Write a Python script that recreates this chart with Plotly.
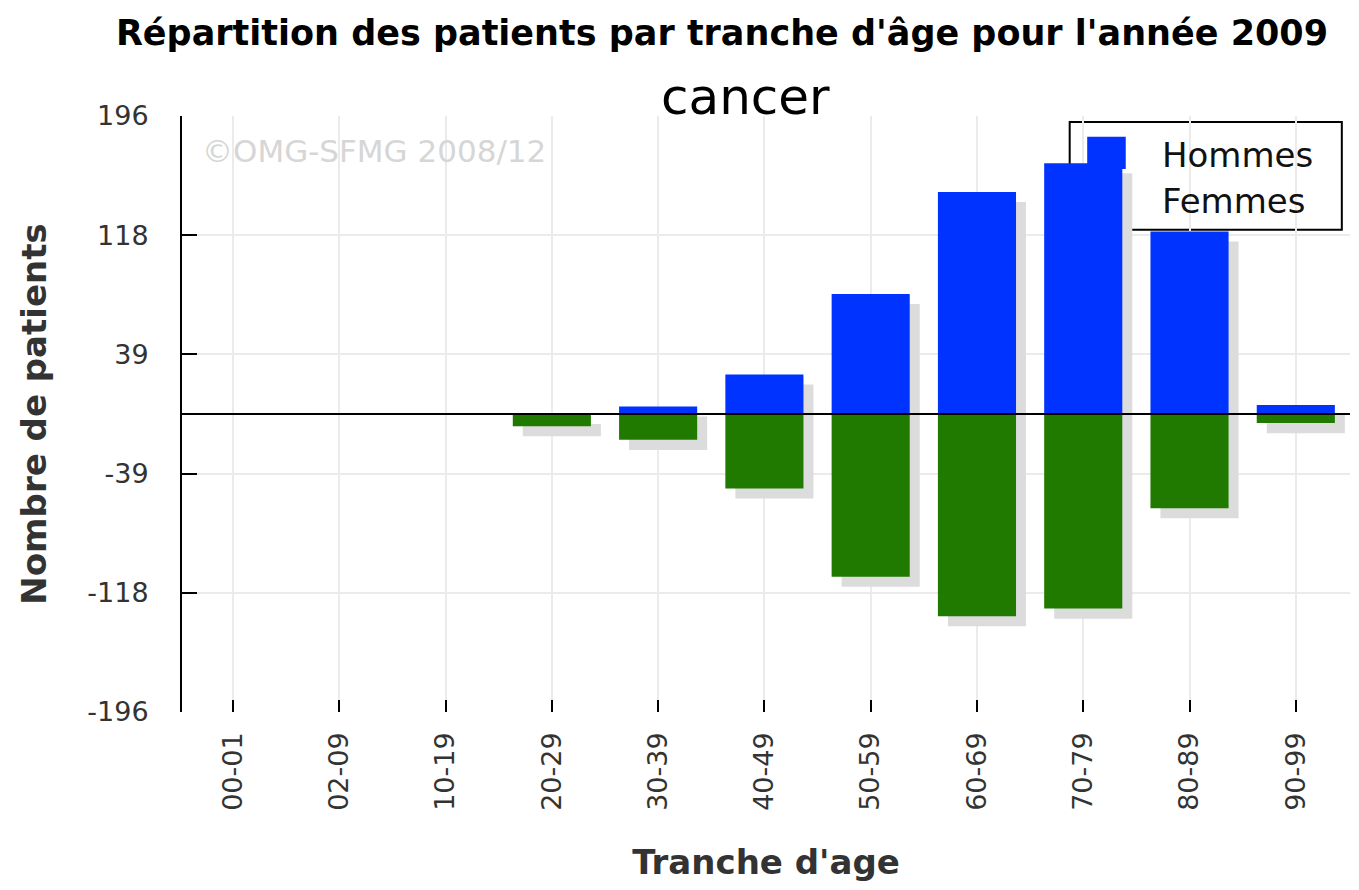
import plotly.graph_objects as go

# data
tranches = ["00-01", "02-09", "10-19", "20-29", "30-39", "40-49",
            "50-59", "60-69", "70-79", "80-89", "90-99"]
hommes = [0, 0, 0, 0, 5, 26, 79, 146, 165, 120, 6]
femmes = [0, 0, 0, -8, -17, -49, -107, -133, -128, -62, -6]

y_ticks = [-196, -117.6, -39.2, 0, 39.2, 117.6, 196]
y_labels = ["-196", "-118", "-39", "", "39", "118", "196"]

BLEU = "#0033ff"
VERT = "#217a00"
OMBRE = "#dcdcdc"
FONT = "DejaVu Sans"

# page body has an 8px margin, so the figure is 8px smaller each way
W, H = 1351, 882

bar_w = 0.735
shadow_dx = 0.094   # ~10px to the right
shadow_dy = -6.6    # ~10px down

fig = go.Figure()

# drop shadows first so the bars sit on top
fig.add_trace(go.Bar(x=tranches, y=hommes, base=shadow_dy, width=bar_w,
                     offset=-bar_w / 2 + shadow_dx, marker_color=OMBRE,
                     marker_line_width=0, showlegend=False, hoverinfo="skip"))
fig.add_trace(go.Bar(x=tranches, y=femmes, base=shadow_dy, width=bar_w,
                     offset=-bar_w / 2 + shadow_dx, marker_color=OMBRE,
                     marker_line_width=0, showlegend=False, hoverinfo="skip"))

fig.add_trace(go.Bar(x=tranches, y=hommes, name="Hommes", width=bar_w,
                     offset=-bar_w / 2, marker_color=BLEU,
                     marker_line_width=0, showlegend=False))
fig.add_trace(go.Bar(x=tranches, y=femmes, name="Femmes", width=bar_w,
                     offset=-bar_w / 2, marker_color=VERT,
                     marker_line_width=0, showlegend=False))

fig.update_layout(
    width=W, height=H,
    barmode="overlay",
    plot_bgcolor="white", paper_bgcolor="white",
    margin=dict(l=174, r=9, t=108, b=178, autoexpand=False),
    font=dict(family=FONT, color="#222"),
    title=dict(text="<b>Répartition des patients par tranche d'âge pour l'année 2009</b>",
               x=714 / W, xanchor="center", xref="container",
               y=1 - 25 / H, yanchor="middle", yref="container",
               font=dict(size=35, color="black", family=FONT)),
)

fig.update_xaxes(
    type="category", automargin=False,
    range=[-0.48, 10.51],
    showgrid=True, gridcolor="#ebebeb", gridwidth=2,
    showline=False, zeroline=False,
    ticks="inside", ticklen=12, tickwidth=2, tickcolor="black",
    tickangle=-90, tickfont=dict(size=27, color="#333"),
    ticklabelstandoff=14,
    title=dict(text="<b>Tranche d'age</b>", font=dict(size=34, color="#333"),
               standoff=40),
)
fig.update_yaxes(
    automargin=False,
    range=[-196, 196],
    tickmode="array", tickvals=y_ticks, ticktext=y_labels,
    showgrid=True, gridcolor="#ebebeb", gridwidth=2,
    showline=True, linecolor="black", linewidth=2,
    zeroline=False,
    ticks="inside", ticklen=15, tickwidth=2, tickcolor="black",
    tickfont=dict(size=27, color="#333"),
    ticklabelstandoff=26,
    title=dict(text="<b>Nombre de patients</b>", font=dict(size=34, color="#333"),
               standoff=30),
)

# zero line drawn over the bars
fig.add_shape(type="line", xref="paper", yref="y", x0=0, x1=1, y0=0, y1=0,
              line=dict(color="black", width=2), layer="above")

# legend box sits under the bars, as in the original
fig.add_shape(type="rect", xref="paper", yref="paper",
              x0=0.760, x1=0.993, y0=0.809, y1=0.990,
              fillcolor="white", line=dict(color="black", width=2), layer="between")
fig.add_shape(type="rect", xref="paper", yref="paper",
              x0=0.775, x1=0.808, y0=0.911, y1=0.965,
              fillcolor=BLEU, line_width=0, layer="between")
fig.add_annotation(text="Hommes", xref="paper", yref="paper", x=0.837, y=0.935,
                   xanchor="left", yanchor="middle", showarrow=False,
                   font=dict(size=34, color="#111"))
fig.add_annotation(text="Femmes", xref="paper", yref="paper", x=0.837, y=0.857,
                   xanchor="left", yanchor="middle", showarrow=False,
                   font=dict(size=34, color="#111"))

# subtitle and watermark
fig.add_annotation(text="cancer", xref="paper", yref="paper",
                   x=(745 - 182) / 1168, y=1 + (116 - 97) / 596,
                   xanchor="center", yanchor="middle", showarrow=False,
                   font=dict(size=50, color="black"))
fig.add_annotation(text="©OMG-SFMG 2008/12", xref="paper", yref="paper",
                   x=(200 - 182) / 1168, y=(712 - 151) / 596,
                   xanchor="left", yanchor="middle", showarrow=False,
                   font=dict(size=31, color="#d6d6d6"))

fig.write_html("out.html")
